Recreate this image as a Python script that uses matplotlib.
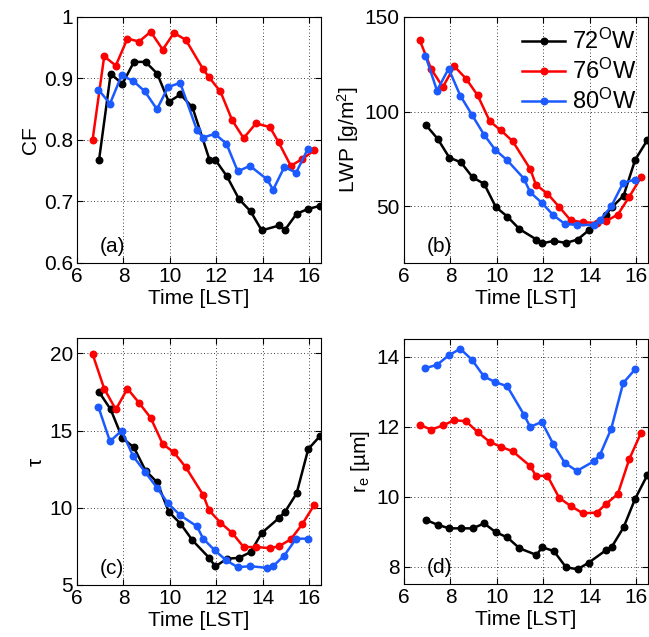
import numpy as np
import matplotlib
matplotlib.use("Agg")
import matplotlib.pyplot as plt
from matplotlib.ticker import FuncFormatter

plt.rcParams['font.family'] = ['Liberation Sans', 'DejaVu Sans']
plt.rcParams['mathtext.fontset'] = 'custom'
plt.rcParams['mathtext.rm'] = 'Liberation Sans'
plt.rcParams['mathtext.it'] = 'Liberation Sans:italic'

# observation times [LST] for each longitude
t72 = [6.95, 7.45, 7.95, 8.45, 8.95, 9.45, 9.95, 10.45, 10.97, 11.7,
       11.95, 12.45, 12.97, 13.47, 13.95, 14.7, 14.95, 15.45, 15.95, 16.47]
t76 = [6.67, 7.17, 7.67, 8.17, 8.67, 9.17, 9.69, 10.17, 10.68, 11.43,
       11.68, 12.17, 12.68, 13.17, 13.7, 14.3, 14.68, 15.2, 15.69, 16.2]
t80 = [6.92, 7.42, 7.92, 8.42, 8.92, 9.44, 9.92, 10.44, 11.16, 11.43,
       11.93, 12.43, 12.92, 13.44, 14.18, 14.44, 14.92, 15.43, 15.94]

# (a) cloud fraction
cf72 = [0.768, 0.908, 0.891, 0.927, 0.927, 0.908, 0.862, 0.874, 0.853, 0.768,
        0.768, 0.741, 0.704, 0.684, 0.653, 0.661, 0.654, 0.680, 0.688, 0.693]
cf76 = [0.800, 0.936, 0.921, 0.965, 0.960, 0.976, 0.947, 0.974, 0.963, 0.915,
        0.902, 0.879, 0.832, 0.803, 0.827, 0.821, 0.796, 0.758, 0.769, 0.783]
cf80 = [0.882, 0.859, 0.905, 0.896, 0.879, 0.850, 0.886, 0.893, 0.816, 0.804,
        0.810, 0.794, 0.749, 0.758, 0.736, 0.719, 0.756, 0.747, 0.786]

# (b) liquid water path
lwp72 = [92.8, 85.6, 75.7, 73.2, 65.3, 61.8, 49.6, 44.5, 37.9, 32.4,
         30.4, 31.7, 30.6, 32.4, 37.3, 45.6, 49.5, 55.6, 74.6, 84.9]
lwp76 = [138.0, 122.5, 113.0, 123.9, 117.4, 108.6, 94.9, 90.1, 84.3, 69.7,
         61.3, 56.7, 49.6, 42.6, 41.5, 41.2, 42.0, 45.6, 54.9, 65.3]
lwp80 = [129.6, 111.1, 122.7, 108.5, 98.4, 87.9, 79.9, 74.3, 64.6, 57.4,
         51.8, 45.2, 40.7, 40.1, 40.1, 42.6, 50.0, 62.3, 64.1]

# (c) optical depth
tau72 = [17.5, 16.37, 14.52, 13.91, 12.41, 11.65, 9.74, 8.98, 7.89, 6.74,
         6.20, 6.70, 6.76, 7.13, 8.37, 9.35, 9.74, 10.93, 13.80, 14.67]
tau76 = [19.96, 17.72, 16.37, 17.72, 16.8, 15.83, 14.13, 13.59, 12.63, 10.83,
         9.85, 9.04, 8.37, 7.46, 7.46, 7.39, 7.5, 7.96, 8.93, 10.17]
tau80 = [16.54, 14.3, 15.0, 13.33, 12.35, 11.3, 10.28, 9.52, 8.8, 8.0,
         7.24, 6.59, 6.15, 6.22, 6.11, 6.22, 6.91, 8.0, 8.0]

# (d) effective radius
re72 = [9.33, 9.19, 9.09, 9.09, 9.09, 9.23, 8.98, 8.83, 8.52, 8.33,
        8.55, 8.44, 7.98, 7.92, 8.11, 8.47, 8.57, 9.12, 9.94, 10.61]
re76 = [12.05, 11.91, 12.03, 12.18, 12.15, 11.84, 11.56, 11.42, 11.29, 10.87,
        10.59, 10.59, 9.96, 9.73, 9.52, 9.54, 9.78, 10.07, 11.06, 11.82]
re80 = [13.67, 13.76, 14.03, 14.22, 13.91, 13.43, 13.27, 13.15, 12.34, 11.99,
        12.13, 11.49, 10.96, 10.73, 11.01, 11.2, 11.94, 13.24, 13.63]

labels = [r'72$^{\mathrm{O}}$W', r'76$^{\mathrm{O}}$W', r'80$^{\mathrm{O}}$W']
colors = ['black', '#ff0000', '#1a5aff']

W, H = 649, 637
fig = plt.figure(figsize=(W / 100, H / 100), dpi=100)

def box(l, r, t, b):
    return [l / W, 1 - b / H, (r - l) / W, (b - t) / H]

panels = [
    (box(77, 321, 17, 263), (cf72, cf76, cf80), 'CF', (0.6, 1.0),
     [0.6, 0.7, 0.8, 0.9, 1.0], '(a)'),
    (box(404, 648, 17, 263), (lwp72, lwp76, lwp80), r'LWP [g/m$^2$]', (20, 150),
     [50, 100, 150], '(b)'),
    (box(77, 321, 338, 585), (tau72, tau76, tau80), 'τ', (5, 21),
     [5, 10, 15, 20], '(c)'),
    (box(404, 648, 339, 584), (re72, re76, re80), r'r$_\mathrm{e}$ [µm]', (7.5, 14.5),
     [8, 10, 12, 14], '(d)'),
]

times = (t72, t76, t80)
fmt = FuncFormatter(lambda v, p: ('%g' % v))
fs = 15

for i, (pos, series, ylab, ylim, yticks, tag) in enumerate(panels):
    ax = fig.add_axes(pos)
    for t, y, c, lab in zip(times, series, colors, labels):
        ax.plot(t, y, '-o', color=c, lw=1.8, ms=4.5, mew=1.2, label=lab)
    ax.set_xlim(6, 16.5)
    ax.set_ylim(*ylim)
    ax.set_xticks([6, 8, 10, 12, 14, 16])
    ax.set_yticks(yticks)
    ax.yaxis.set_major_formatter(fmt)
    ax.grid(True, color='black', linestyle=(0, (1, 3)), linewidth=0.6)
    ax.tick_params(direction='in', top=True, right=True, labelsize=fs,
                   length=4, width=0.8, pad=3)
    ax.set_xlabel('Time [LST]', fontsize=fs, labelpad=2)
    ax.set_ylabel(ylab, fontsize=fs, labelpad=3)
    ax.text(0.095, 0.03, tag, transform=ax.transAxes, fontsize=fs,
            ha='left', va='bottom')
    for s in ax.spines.values():
        s.set_linewidth(0.8)
    if i == 1:
        ax.legend(loc='upper right', frameon=False, fontsize=17,
                  handlelength=1.8, handletextpad=0.3, labelspacing=0.2,
                  borderaxespad=0.1)

fig.savefig('out.png', dpi=100)
